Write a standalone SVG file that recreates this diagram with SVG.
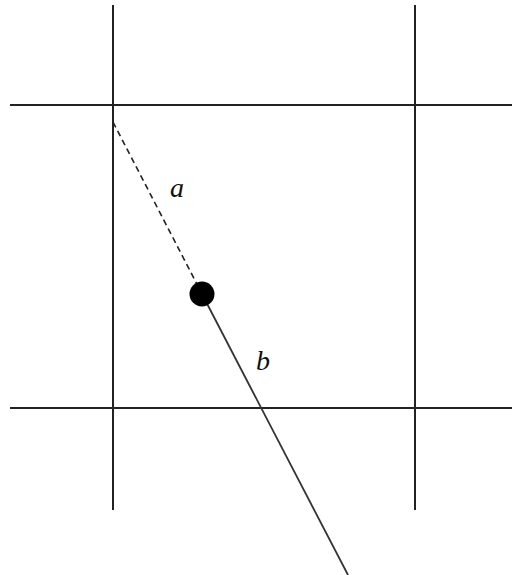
<svg xmlns="http://www.w3.org/2000/svg" width="512" height="575" viewBox="0 0 512 575">
<style>
.grid{stroke:#222;stroke-width:2;fill:none}
.lbl{font-family:"Liberation Serif",serif;font-style:italic;font-size:28px;fill:#111}
</style>
<rect width="512" height="575" fill="#fff"/>
<g id="grid">
<line class="grid" x1="113" y1="5" x2="113" y2="510"/>
<line class="grid" x1="415" y1="5" x2="415" y2="510"/>
<line class="grid" x1="10" y1="105" x2="512" y2="105"/>
<line class="grid" x1="10" y1="408" x2="512" y2="408"/>
</g>
<g id="connectors">
<line x1="113" y1="122" x2="200" y2="290" stroke="#222" stroke-width="1.6" stroke-dasharray="6,4"/>
<line x1="202" y1="294" x2="348" y2="575" stroke="#333" stroke-width="1.8"/>
</g>
<g id="point">
<circle cx="202" cy="294" r="12.5" fill="#000"/>
</g>
<g id="label-a"><text class="lbl" x="170" y="197">a</text></g>
<g id="label-b"><text class="lbl" x="256" y="370">b</text></g>
</svg>
